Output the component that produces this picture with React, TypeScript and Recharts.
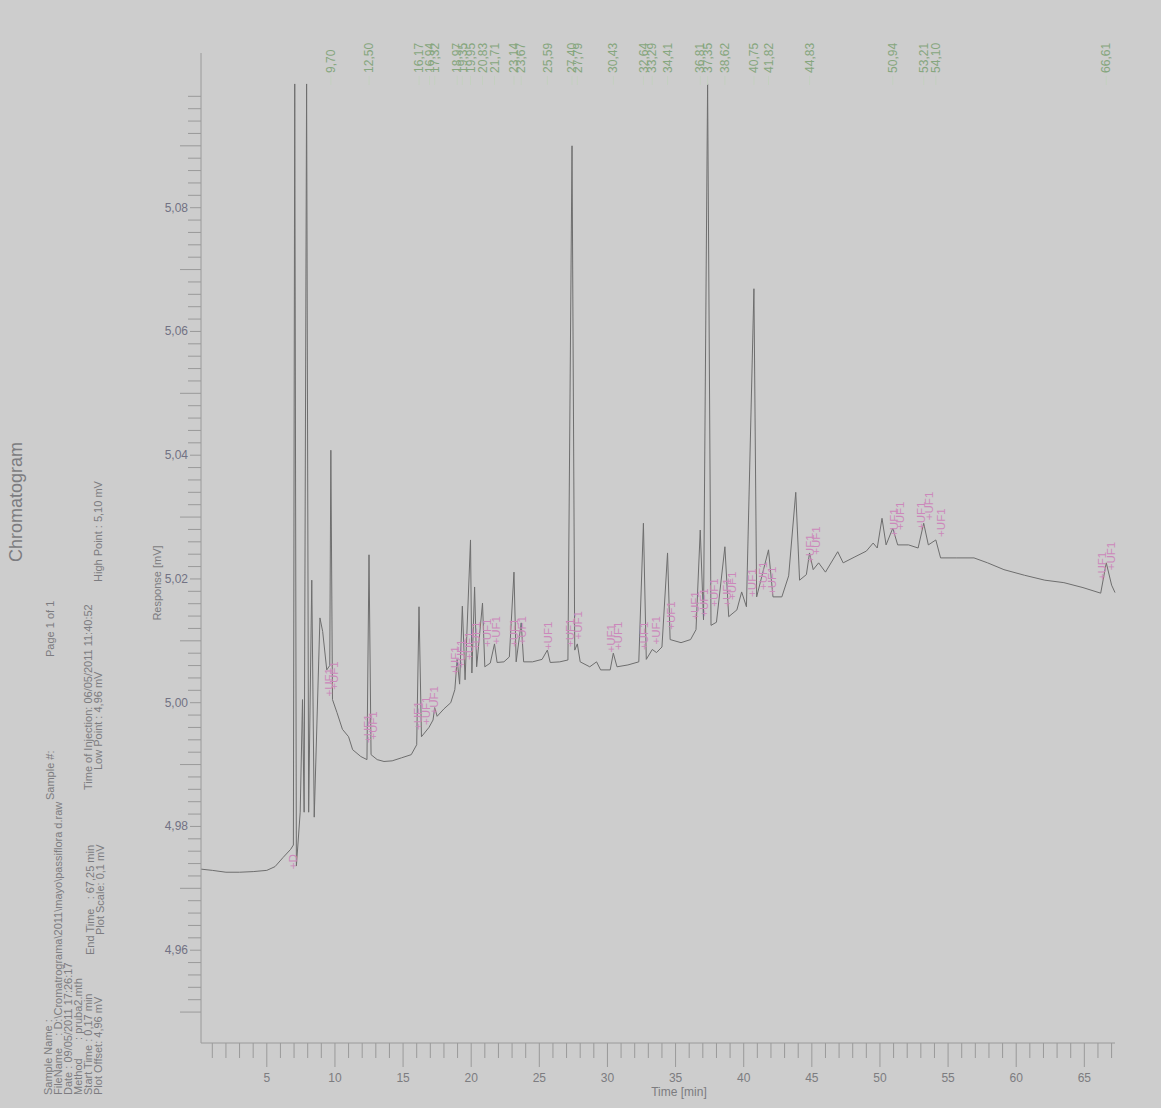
import React from "react";
import { ComposedChart, Line, Scatter, XAxis, YAxis } from "recharts";

// chromatogram trace
const timeMin = [
  0.17, 1.0, 2.0, 3.0, 4.0, 5.0, 5.6, 6.2, 6.75, 6.95, 7.05, 7.17, 7.45, 7.62, 7.74, 7.92, 8.07, 8.3, 8.48, 8.9,
  9.1, 9.4, 9.62, 9.7, 9.82, 10.15, 10.55, 11.0, 11.3, 11.9, 12.35, 12.5, 12.65, 13.1, 13.6, 14.2, 14.9, 15.6, 16.0, 16.17,
  16.35, 16.9, 17.2, 17.32, 17.5, 18.0, 18.5, 18.8, 18.97, 19.15, 19.35, 19.55, 19.95, 20.05, 20.25, 20.4, 20.83, 21.0, 21.4, 21.71,
  21.9, 22.4, 22.8, 23.14, 23.3, 23.67, 23.85, 24.5, 25.2, 25.59, 25.8, 26.5, 27.1, 27.4, 27.6, 27.79, 28.0, 28.7, 29.2, 29.5,
  30.2, 30.43, 30.7, 31.5, 32.3, 32.64, 32.85, 33.29, 33.6, 34.0, 34.41, 34.6, 35.4, 36.1, 36.5, 36.81, 37.05, 37.35, 37.6, 38.0,
  38.62, 38.9, 39.5, 39.85, 40.2, 40.75, 40.95, 41.82, 42.15, 42.8, 43.3, 43.82, 44.1, 44.6, 44.83, 45.1, 45.5, 46.0, 46.9, 47.3,
  48.1, 49.0, 49.5, 49.8, 50.15, 50.45, 50.94, 51.3, 52.1, 52.8, 53.21, 53.55, 54.1, 54.45, 55.6, 56.9, 57.9, 59.1, 60.6, 62.1,
  63.5, 64.9, 66.2, 66.61, 67.0, 67.25,
];
const responseMv = [
  4.9731, 4.9729, 4.9726, 4.9726, 4.9727, 4.9729, 4.9735, 4.975, 4.9763, 4.977, 5.1, 4.9736, 4.9823, 5.0005, 4.9823, 5.1, 4.9823, 5.0198, 4.9815, 5.0137,
  5.0115, 5.0053, 5.006, 5.0408, 5.0005, 4.9984, 4.9957, 4.9945, 4.9924, 4.9913, 4.9908, 5.0239, 4.9916, 4.9908, 4.9905, 4.9906, 4.9911, 4.9916, 4.9932, 5.0155,
  4.9945, 4.996, 4.9972, 4.9992, 4.9978, 4.999, 5.0, 5.0021, 5.007, 5.003, 5.0156, 5.0037, 5.0263, 5.0048, 5.0187, 5.0058, 5.0161, 5.0058, 5.0064, 5.0095,
  5.0065, 5.0066, 5.0074, 5.0211, 5.0066, 5.0129, 5.0066, 5.0066, 5.007, 5.0085, 5.0065, 5.0066, 5.0069, 5.09, 5.0085, 5.0095, 5.0066, 5.0058, 5.0066, 5.0053,
  5.0053, 5.008, 5.0058, 5.0061, 5.0066, 5.029, 5.007, 5.0086, 5.0081, 5.009, 5.0242, 5.0102, 5.0097, 5.0102, 5.0118, 5.0279, 5.0134, 5.1, 5.0125, 5.013,
  5.0252, 5.0139, 5.015, 5.0179, 5.0155, 5.0669, 5.0171, 5.0247, 5.0171, 5.0171, 5.0205, 5.034, 5.0198, 5.0207, 5.0242, 5.0215, 5.0226, 5.0211, 5.0244, 5.0226,
  5.0235, 5.0245, 5.0258, 5.025, 5.0298, 5.0255, 5.0282, 5.0255, 5.0255, 5.025, 5.029, 5.0255, 5.0263, 5.0234, 5.0234, 5.0234, 5.0226, 5.0215, 5.0206, 5.0198,
  5.0194, 5.0186, 5.0177, 5.0226, 5.019, 5.0178,
];

// retention times printed along the top
const peakTimes = [
  9.7, 12.5, 16.17, 16.94, 17.32, 18.97, 19.35, 19.95, 20.83, 21.71, 23.14, 23.67, 25.59, 27.4, 27.79, 30.43, 32.64, 33.29,
  34.41, 36.81, 37.35, 38.62, 40.75, 41.82, 44.83, 50.94, 53.21, 54.1, 66.61,
];

// pink integration marks
const markTimes = [
  6.9, 9.56, 9.93, 12.43, 12.79, 16.1, 16.7, 17.28, 18.82, 19.26, 19.85, 20.37, 21.18, 21.84, 23.16, 23.75, 25.6, 27.28, 27.87, 30.29,
  30.74, 32.65, 33.53, 34.63, 36.4, 37.06, 37.79, 38.75, 39.12, 40.59, 41.4, 42.06, 44.85, 45.3, 51.03, 51.47, 53.01, 53.6, 54.49, 66.32,
  66.99,
];
const markResponse = [
  4.9731, 5.001, 5.0021, 4.9935, 4.994, 4.9956, 4.9964, 4.9981, 5.0045, 5.0056, 5.0069, 5.0085, 5.009, 5.0094, 5.009, 5.0094, 5.0085, 5.009, 5.0102, 5.0081,
  5.0085, 5.0085, 5.0094, 5.0118, 5.0134, 5.0139, 5.0155, 5.0155, 5.0166, 5.0171, 5.0182, 5.0174, 5.0226, 5.0239, 5.0268, 5.0279, 5.0279, 5.0295, 5.0268, 5.0198,
  5.0214,
];

const yLabelTicks = [4.96, 4.98, 5.0, 5.02, 5.04, 5.06, 5.08];
const xLabelTicks = [5, 10, 15, 20, 25, 30, 35, 40, 45, 50, 55, 60, 65];

const headerLines = [
  { x: 48, y: 1095, text: "Sample Name :" },
  { x: 58, y: 1095, text: "FileName    : D:\\Cromatrograma\\2011\\mayo\\passiflora d.raw" },
  { x: 68, y: 1095, text: "Date : 09/05/2011 17:26:17" },
  { x: 78, y: 1095, text: "Method      : pruba2.mth" },
  { x: 88, y: 1095, text: "Start Time : 0,17 min" },
  { x: 98, y: 1095, text: "Plot Offset: 4,96 mV" },
  { x: 90, y: 955, text: "End Time   : 67,25 min" },
  { x: 100, y: 935, text: "Plot Scale: 0,1 mV" },
  { x: 88, y: 790, text: "Time of Injection: 06/05/2011 11:40:52" },
  { x: 98, y: 770, text: "Low Point : 4,96 mV" },
  { x: 98, y: 582, text: "High Point : 5,10 mV" },
  { x: 50, y: 800, text: "Sample #:" },
  { x: 50, y: 657, text: "Page 1 of 1" },
];

const W = 1161;
const H = 1108;
const PLOT_LEFT = 201;
const PLOT_BOTTOM = 1043;
const FONT = "'Liberation Sans', Arial, sans-serif";
const INK = "#7c7c80";

const trace = timeMin.map((t, i) => ({ t, v: responseMv[i] }));
const peakRows = peakTimes.map((t) => ({ t, v: 5.1 }));
const markRows = markTimes.map((t, i) => ({ t, v: markResponse[i], label: i === 0 ? "+D" : "+UF1" }));

const xTicks: number[] = [];
for (let m = 1; m <= 67; m++) xTicks.push(m);
const yTicks: number[] = [];
for (let k = 0; k <= 74; k++) yTicks.push(Math.round((4.95 + k * 0.002) * 1000) / 1000);

const fmt = (v: number, d: number) => v.toFixed(d).replace(".", ",");

function XTick(props: any) {
  const { x, payload } = props;
  const major = xLabelTicks.includes(payload.value);
  return (
    <g>
      <line x1={x} x2={x} y1={PLOT_BOTTOM} y2={PLOT_BOTTOM + (major ? 24 : 15)} stroke="#9a9a9a" strokeWidth={1} />
      {major && (
        <text x={x} y={PLOT_BOTTOM + 39} textAnchor="middle" fontSize={12} fill={INK} fontFamily={FONT}>
          {payload.value}
        </text>
      )}
    </g>
  );
}

function YTick(props: any) {
  const { y, payload } = props;
  const m = Math.round(payload.value * 1000);
  const labelled = yLabelTicks.some((v) => Math.round(v * 1000) === m);
  const mid = m % 10 === 0;
  const len = labelled ? 11 : mid ? 21 : 13;
  return (
    <g>
      <line x1={PLOT_LEFT - len} x2={PLOT_LEFT} y1={y} y2={y} stroke="#9a9a9a" strokeWidth={1} />
      {labelled && (
        <text x={PLOT_LEFT - 13} y={y + 4} textAnchor="end" fontSize={12} fill="#727284" fontFamily={FONT}>
          {fmt(payload.value, 2)}
        </text>
      )}
    </g>
  );
}

function PeakLabel(props: any) {
  const { cx, cy, payload } = props;
  const by = cy - 11;
  return (
    <g>
      <line x1={cx} x2={cx} y1={by + 3} y2={by + 12} stroke="#c4d0c0" strokeWidth={1} />
      <text
        x={cx}
        y={by}
        dy="0.35em"
        transform={`rotate(-90 ${cx} ${by})`}
        fontSize={12}
        fill="#86a67e"
        fontFamily={FONT}
      >
        {fmt(payload.t, 2)}
      </text>
    </g>
  );
}

function MarkLabel(props: any) {
  const { cx, cy, payload } = props;
  return (
    <text
      x={cx}
      y={cy}
      dy="0.35em"
      transform={`rotate(-90 ${cx} ${cy})`}
      fontSize={11.5}
      fill="#cc88bb"
      fontFamily={FONT}
    >
      {payload.label}
    </text>
  );
}

export default function App() {
  return (
    <div style={{ position: "absolute", left: 0, top: 0, width: W, height: H, background: "#cdcdcd" }}>
      <ComposedChart width={W} height={H} margin={{ top: 53, right: 46, bottom: 5, left: 141 }}>
        <XAxis
          type="number"
          dataKey="t"
          domain={[0.17, 67.25]}
          ticks={xTicks}
          interval={0}
          tick={<XTick />}
          tickLine={false}
          axisLine={{ stroke: "#9a9a9a" }}
          height={60}
        />
        <YAxis
          type="number"
          dataKey="v"
          domain={[4.945, 5.105]}
          ticks={yTicks}
          interval={0}
          tick={<YTick />}
          tickLine={false}
          axisLine={{ stroke: "#9a9a9a" }}
          width={60}
        />
        <Line
          data={trace}
          dataKey="v"
          type="linear"
          stroke="#6e6e6e"
          strokeWidth={1}
          dot={false}
          isAnimationActive={false}
        />
        <Scatter data={peakRows} dataKey="v" shape={<PeakLabel />} isAnimationActive={false} />
        <Scatter data={markRows} dataKey="v" shape={<MarkLabel />} isAnimationActive={false} />
      </ComposedChart>
      <svg width={W} height={H} style={{ position: "absolute", left: 0, top: 0, pointerEvents: "none" }}>
        <text x={16} y={562} dy="0.35em" transform="rotate(-90 16 562)" fontSize={18} fill={INK} fontFamily={FONT}>
          Chromatogram
        </text>
        {headerLines.map((l) => (
          <text
            key={l.text}
            x={l.x}
            y={l.y}
            dy="0.35em"
            transform={`rotate(-90 ${l.x} ${l.y})`}
            fontSize={11}
            fill={INK}
            fontFamily={FONT}
            xmlSpace="preserve"
          >
            {l.text}
          </text>
        ))}
        <text x={157} y={583} dy="0.35em" textAnchor="middle" transform="rotate(-90 157 583)" fontSize={11} fill={INK} fontFamily={FONT}>
          Response [mV]
        </text>
        <text x={679} y={1096} textAnchor="middle" fontSize={12} fill={INK} fontFamily={FONT}>
          Time [min]
        </text>
      </svg>
    </div>
  );
}
